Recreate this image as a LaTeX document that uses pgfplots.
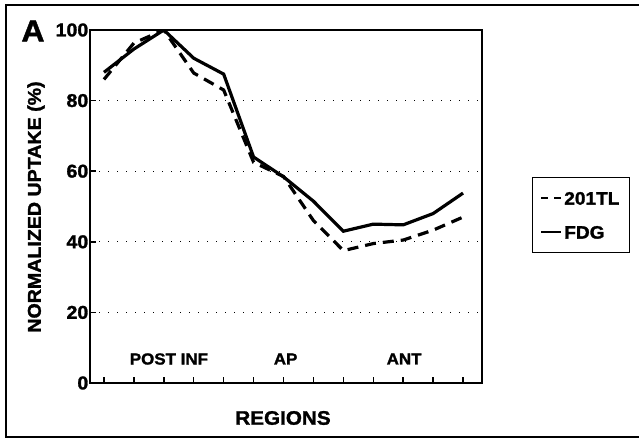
\documentclass[border=0pt]{standalone}
\usepackage{fontspec}
\setmainfont{Liberation Sans Bold}[FakeBold=1.5, FakeStretch=1.06]
\usepackage{pgfplots}
\pgfplotsset{compat=1.18}
\begin{document}
\begin{tikzpicture}[x=1pt,y=1pt]
\useasboundingbox (0,0) rectangle (639,438);
% outer frame
\draw[line width=2.5pt] (639,433) -- (6,433) -- (6,1) -- (639,1);
\begin{axis}[
  at={(90pt,55pt)}, anchor=south west,
  scale only axis, width=392pt, height=353pt,
  xmin=0.533, xmax=13.633, ymin=0, ymax=100,
  axis line style={line width=1.8pt},
  xtick={1,...,13}, xticklabels={},
  ytick={0,20,40,60,80,100},
  tick align=inside, tick pos=left,
  major tick length=6pt,
  tick style={line width=1.5pt, black},
  /pgf/number format/assume math mode=true,
  yticklabel style={font=\fontsize{18.5}{18.5}\selectfont, inner sep=1.5pt},
  ymajorgrids,
  grid style={line width=1.3pt, dash pattern=on 1.3pt off 7.7pt, black},
  legend style={at={(1.1276,0.5836)}, anchor=north west, draw=black, line width=1.3pt,
    inner xsep=8pt, inner ysep=12pt, row sep=17pt,
    font=\fontsize{18}{18}\selectfont,
    nodes={inner sep=2pt, text height=13pt, text depth=0pt}},
  legend cell align=left,
  legend image code/.code={\draw[#1] (0pt,0pt) -- (20pt,0pt);},
]
\addplot[black, line width=3.2pt, dash pattern=on 11pt off 7pt, forget plot] coordinates {
 (1,86) (2,96.3) (3,100) (4,87.8) (5,83) (6,62.5) (7,58.5) (8,46) (9,37.5) (10,39.5) (11,40.5) (12,43.3) (13,47)};
\addplot[black, line width=3.2pt, forget plot] coordinates {
 (1,88) (2,94.6) (3,100) (4,92) (5,87.5) (6,64) (7,58.4) (8,51.5) (9,43) (10,45) (11,44.8) (12,48) (13,53.8)};
\addlegendimage{black, line width=1.6pt, dash pattern=on 7pt off 6pt}
\addlegendentry{201TL}
\addlegendimage{black, line width=1.6pt}
\addlegendentry{FDG}
\node[font=\fontsize{16}{16}\selectfont] at (axis cs:3.17,6.8) {POST INF};
\node[font=\fontsize{16}{16}\selectfont] at (axis cs:7.07,6.8) {AP};
\node[font=\fontsize{16}{16}\selectfont] at (axis cs:11.03,6.8) {ANT};
\end{axis}
\node[font=\fontsize{19.5}{19.5}\selectfont] at (283,20) {REGIONS};
\node[rotate=90, font=\fontsize{18.5}{18.5}\selectfont] at (36,231) {NORMALIZED UPTAKE (\%)};
\node[font=\fontsize{30}{30}\selectfont] at (33,407) {A};
\end{tikzpicture}
\end{document}
